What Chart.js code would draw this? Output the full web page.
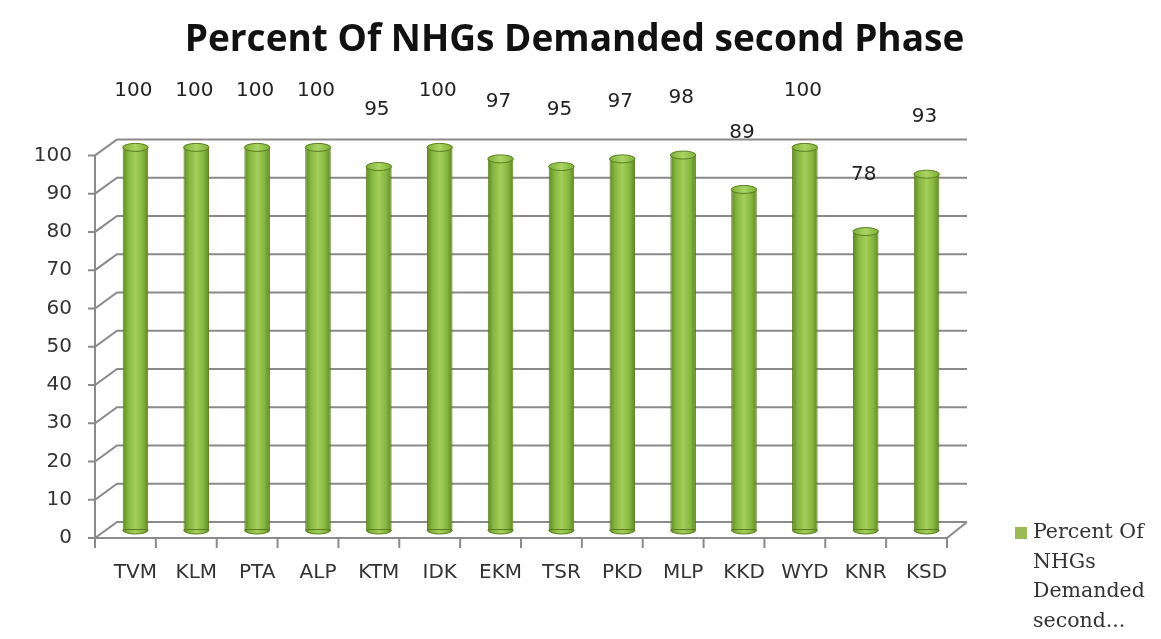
<!DOCTYPE html>
<html>
<head>
<meta charset="utf-8">
<script src="https://cdn.jsdelivr.net/npm/chart.js@4/dist/chart.umd.min.js"></script>
<style>
  html, body { margin: 0; padding: 0; background: #ffffff; }
  #wrap { width: 1161px; height: 639px; }
</style>
</head>
<body>
<div id="wrap"><canvas id="grafico" width="1161" height="639"></canvas></div>
<script>
// dados do grafico
const categorias = ['TVM', 'KLM', 'PTA', 'ALP', 'KTM', 'IDK', 'EKM', 'TSR', 'PKD', 'MLP', 'KKD', 'WYD', 'KNR', 'KSD'];
const valores = [100, 100, 100, 100, 95, 100, 97, 95, 97, 98, 89, 100, 78, 93];
const ticksY = [0, 10, 20, 30, 40, 50, 60, 70, 80, 90, 100];
const tituloSerie = 'Percent Of NHGs Demanded second Phase';
const linhasLegenda = ['Percent Of', 'NHGs', 'Demanded', 'second...'];

const BAR_PCT = 0.42;
const GRID_COR = '#8a8a8a';
const FONTE = '"DejaVu Sans", Verdana, sans-serif';

function gradienteCilindro(c, cx, w) {
    const g = c.createLinearGradient(cx - w / 2, 0, cx + w / 2, 0);
    g.addColorStop(0, '#5d8823');
    g.addColorStop(0.22, '#86b740');
    g.addColorStop(0.5, '#a3cf5a');
    g.addColorStop(0.78, '#86b740');
    g.addColorStop(1, '#5d8823');
    return g;
}

// gradiente de cilindro para cada barra
function corBarra(context) {
    const chart = context.chart;
    const sx = chart.scales.x;
    if (!sx || context.dataIndex === undefined) return '#8cbc46';
    const cx = sx.getPixelForValue(context.dataIndex);
    const w = (sx.width / categorias.length) * BAR_PCT;
    if (!isFinite(cx) || !isFinite(w) || w <= 0) return '#8cbc46';
    return gradienteCilindro(chart.ctx, cx, w);
}

// moldura 3D: parede do fundo, eixo frontal e piso
const moldura3D = {
    id: 'moldura3D',
    beforeDatasetsDraw(chart) {
        const ctx = chart.ctx;
        const sx = chart.scales.x, sy = chart.scales.y;
        const area = chart.chartArea;
        const fx = area.left - 10, bx = area.left + 12;
        const fdy = 8, bdy = -8;
        ctx.save();
        ctx.strokeStyle = GRID_COR;
        ctx.lineWidth = 2;
        ticksY.forEach(v => {
            const py = sy.getPixelForValue(v);
            ctx.beginPath();
            ctx.moveTo(fx - 7, py + fdy);
            ctx.lineTo(fx, py + fdy);
            ctx.lineTo(bx, py + bdy);
            ctx.lineTo(area.right + 10, py + bdy);
            ctx.stroke();
        });
        const y0 = sy.getPixelForValue(0), y100 = sy.getPixelForValue(100);
        // eixo vertical frontal
        ctx.beginPath();
        ctx.moveTo(fx, y100 + fdy);
        ctx.lineTo(fx, y0 + fdy);
        ctx.stroke();
        // piso frontal e lateral direita
        const catW = sx.width / categorias.length;
        const frontRight = fx + catW * categorias.length;
        ctx.beginPath();
        ctx.moveTo(fx, y0 + fdy);
        ctx.lineTo(frontRight, y0 + fdy);
        ctx.lineTo(area.right + 10, y0 + bdy);
        ctx.stroke();
        // marcas do eixo x
        for (let i = 0; i <= categorias.length; i++) {
            const tx = fx + i * catW;
            ctx.beginPath();
            ctx.moveTo(tx, y0 + fdy);
            ctx.lineTo(tx, y0 + fdy + 10);
            ctx.stroke();
        }
        ctx.restore();
    },
    afterDatasetsDraw(chart) {
        const ctx = chart.ctx;
        const meta = chart.getDatasetMeta(0);
        ctx.save();
        meta.data.forEach((bar, i) => {
            const w = bar.width, cx = bar.x;
            if (!isFinite(w) || !isFinite(cx)) return;
            // base arredondada
            ctx.beginPath();
            ctx.ellipse(cx, bar.base, w / 2, 4, 0, 0, Math.PI);
            ctx.fillStyle = gradienteCilindro(ctx, cx, w);
            ctx.fill();
            ctx.strokeStyle = '#5a7d20';
            ctx.lineWidth = 1;
            ctx.stroke();
            // tampa superior
            const gt = ctx.createLinearGradient(cx - w / 2, 0, cx + w / 2, 0);
            gt.addColorStop(0, '#7fae3a');
            gt.addColorStop(0.5, '#a9d564');
            gt.addColorStop(1, '#7fae3a');
            ctx.beginPath();
            ctx.ellipse(cx, bar.y, w / 2, 4, 0, 0, Math.PI * 2);
            ctx.fillStyle = gt;
            ctx.fill();
            ctx.stroke();
            // rotulo de dados
            ctx.fillStyle = '#222222';
            ctx.font = '20px ' + FONTE;
            ctx.textAlign = 'center';
            ctx.textBaseline = 'middle';
            ctx.fillText(String(valores[i]), cx - 2, bar.y - 57);
        });
        ctx.restore();
    },
    afterDraw(chart) {
        const ctx = chart.ctx;
        ctx.save();
        ctx.fillStyle = '#9bbb59';
        ctx.fillRect(1015, 527, 12, 12);
        ctx.fillStyle = '#333333';
        ctx.font = '20.5px "DejaVu Serif", "Liberation Serif", serif';
        ctx.textAlign = 'left';
        ctx.textBaseline = 'middle';
        linhasLegenda.forEach((t, i) => {
            ctx.fillText(t, 1033, 533 + i * 29.5);
        });
        ctx.restore();
    }
};

const ctx = document.getElementById('grafico').getContext('2d');
new Chart(ctx, {
    type: 'bar',
    data: {
        labels: categorias,
        datasets: [{
            label: tituloSerie,
            data: valores,
            backgroundColor: corBarra,
            borderColor: '#5a7d20',
            borderWidth: 1,
            borderSkipped: false,
            categoryPercentage: 1,
            barPercentage: BAR_PCT
        }]
    },
    options: {
        responsive: false,
        animation: false,
        layout: { padding: { left: 0, right: 12, top: 0, bottom: 0 } },
        plugins: {
            legend: { display: false },
            tooltip: { enabled: false },
            title: {
                display: true,
                text: 'Percent Of NHGs Demanded second Phase',
                color: '#111111',
                font: { size: 37, weight: 'bold', family: '"Open Sans", Lato, sans-serif', lineHeight: 1.2 },
                padding: { top: 18, bottom: 85 }
            }
        },
        scales: {
            x: {
                grid: { display: false, drawTicks: false },
                border: { display: false },
                ticks: {
                    color: '#333333',
                    padding: 31,
                    font: { size: 20, family: FONTE }
                },
                afterFit(scale) { scale.height = 109; }
            },
            y: {
                min: 0,
                max: 100,
                grid: { display: false, drawTicks: false },
                border: { display: false },
                ticks: {
                    stepSize: 10,
                    color: '#333333',
                    padding: 33,
                    labelOffset: 8,
                    font: { size: 20, family: FONTE }
                },
                afterFit(scale) { scale.width = 105; }
            },
            // eixo vazio a direita que reserva o espaco da legenda
            yLegenda: {
                position: 'right',
                min: 0,
                max: 100,
                grid: { display: false, drawTicks: false },
                border: { display: false },
                ticks: { display: false },
                afterFit(scale) { scale.width = 192; }
            }
        }
    },
    plugins: [moldura3D]
});
</script>
</body>
</html>
